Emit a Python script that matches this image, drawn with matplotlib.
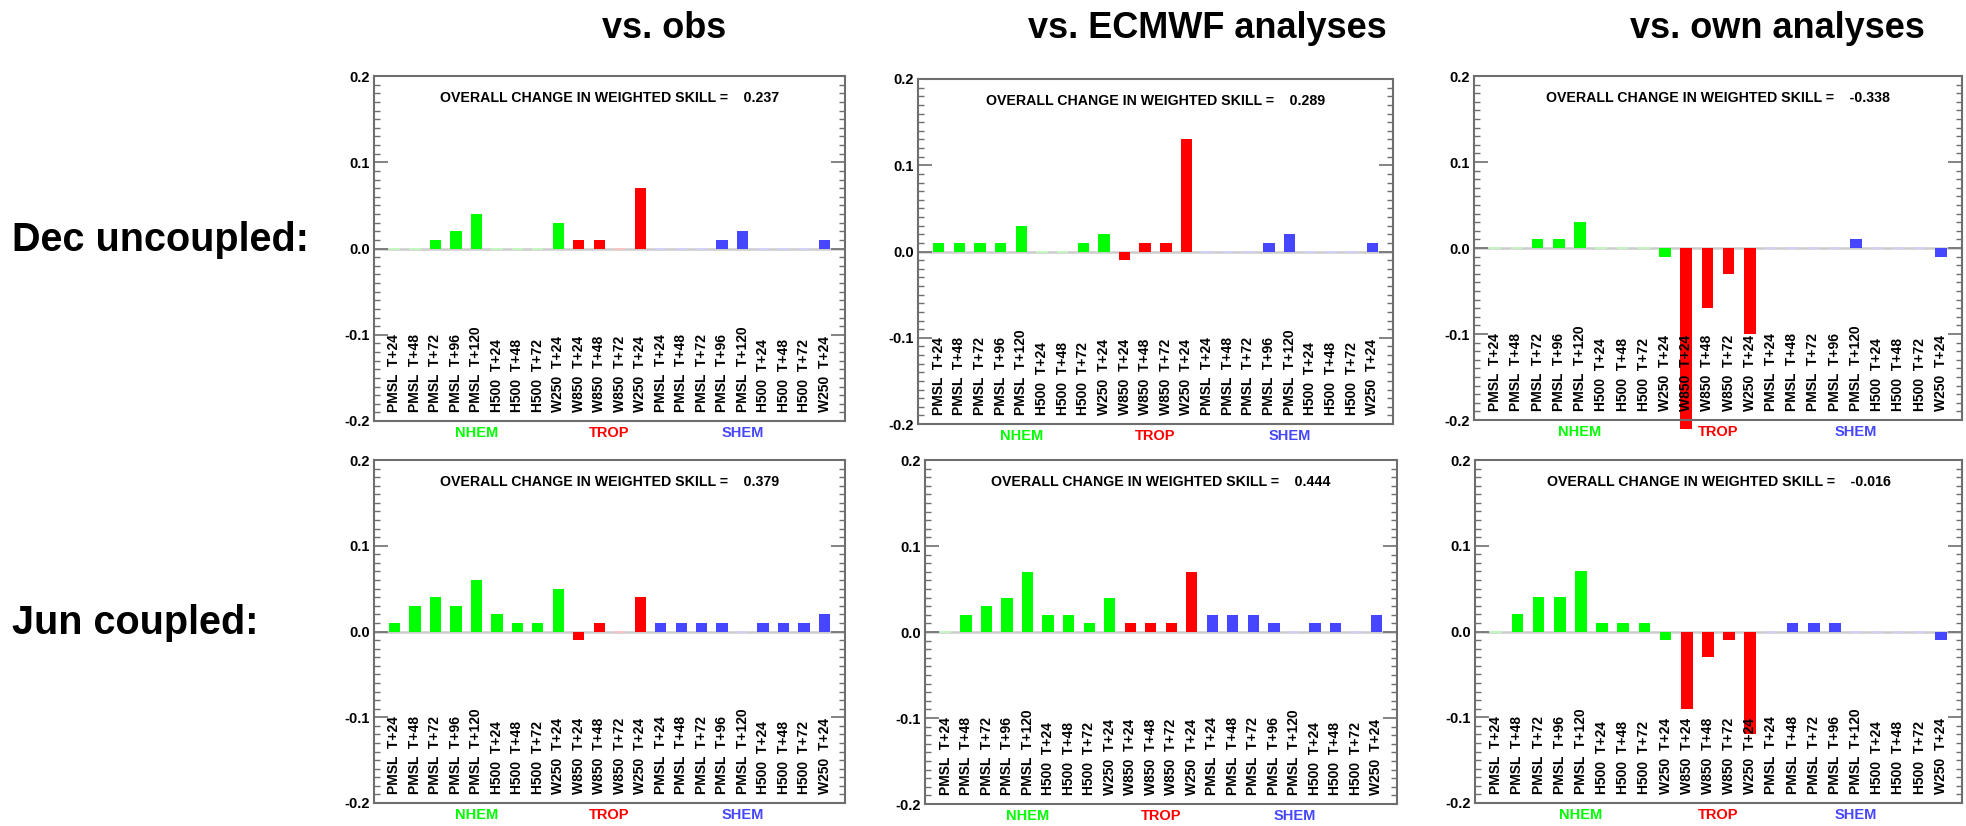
import matplotlib
matplotlib.use("Agg")
import matplotlib.pyplot as plt
from matplotlib.ticker import MultipleLocator
from matplotlib.colors import to_rgb

plt.rcParams['font.family'] = ['Liberation Sans', 'DejaVu Sans']

# ---- data ----
labels = ["PMSL  T+24", "PMSL  T+48", "PMSL  T+72", "PMSL  T+96", "PMSL  T+120",
          "H500  T+24", "H500  T+48", "H500  T+72", "W250  T+24",
          "W850  T+24", "W850  T+48", "W850  T+72", "W250  T+24",
          "PMSL  T+24", "PMSL  T+48", "PMSL  T+72", "PMSL  T+96", "PMSL  T+120",
          "H500  T+24", "H500  T+48", "H500  T+72", "W250  T+24"]
regions = ["NHEM"] * 9 + ["TROP"] * 4 + ["SHEM"] * 9
region_names = ["NHEM", "TROP", "SHEM"]
region_colors = {"NHEM": "#00ff00", "TROP": "#ff0000", "SHEM": "#4646ff"}

col_titles = ["vs. obs", "vs. ECMWF analyses", "vs. own analyses"]
row_titles = ["Dec uncoupled:", "Jun coupled:"]

dec_obs = [0, 0, 0.01, 0.02, 0.04, 0, 0, 0, 0.03,
           0.01, 0.01, 0, 0.07,
           0, 0, 0, 0.01, 0.02, 0, 0, 0, 0.01]
dec_ecmwf = [0.01, 0.01, 0.01, 0.01, 0.03, 0, 0, 0.01, 0.02,
             -0.01, 0.01, 0.01, 0.13,
             0, 0, 0, 0.01, 0.02, 0, 0, 0, 0.01]
dec_own = [0, 0, 0.01, 0.01, 0.03, 0, 0, 0, -0.01,
           -0.21, -0.07, -0.03, -0.10,
           0, 0, 0, 0, 0.01, 0, 0, 0, -0.01]
jun_obs = [0.01, 0.03, 0.04, 0.03, 0.06, 0.02, 0.01, 0.01, 0.05,
           -0.01, 0.01, 0, 0.04,
           0.01, 0.01, 0.01, 0.01, 0, 0.01, 0.01, 0.01, 0.02]
jun_ecmwf = [0, 0.02, 0.03, 0.04, 0.07, 0.02, 0.02, 0.01, 0.04,
             0.01, 0.01, 0.01, 0.07,
             0.02, 0.02, 0.02, 0.01, 0, 0.01, 0.01, 0, 0.02]
jun_own = [0, 0.02, 0.04, 0.04, 0.07, 0.01, 0.01, 0.01, -0.01,
           -0.09, -0.03, -0.01, -0.12,
           0, 0.01, 0.01, 0.01, 0, 0, 0, 0, -0.01]

overall = [["0.237", "0.289", "-0.338"], ["0.379", "0.444", "-0.016"]]
panels = [[dec_obs, dec_ecmwf, dec_own], [jun_obs, jun_ecmwf, jun_own]]

# ---- layout (pixel boxes: left, top, right, bottom) ----
W, H = 1966, 826
boxes = [[(374, 76, 845, 421), (918, 79, 1393, 424), (1474, 76, 1962, 420)],
         [(374, 460, 845, 803), (925, 460, 1397, 804), (1475, 460, 1962, 803)]]

fig = plt.figure(figsize=(W / 100, H / 100), dpi=100)
frame_col = "#6e6e6e"


def tint(c, f=0.75):
    r, g, b = to_rgb(c)
    return (r + (1 - r) * f, g + (1 - g) * f, b + (1 - b) * f)


for r in range(2):
    for c in range(3):
        l, t, rr, b = boxes[r][c]
        ax = fig.add_axes([l / W, 1 - b / H, (rr - l) / W, (b - t) / H])
        vals = panels[r][c]
        n = len(vals)
        xs = list(range(1, n + 1))
        cols = [region_colors[g] for g in regions]
        ax.axhline(0, color="#cccccc", lw=1.8, zorder=1)
        edges = [tint(col) if v == 0 else "none" for v, col in zip(vals, cols)]
        ax.bar(xs, vals, width=0.55, color=cols, edgecolor=edges, linewidth=1.2,
               zorder=2, clip_on=False)
        ax.set_xlim(0, n + 1)
        ax.set_ylim(-0.2, 0.2)
        ax.set_xticks([])
        ax.yaxis.set_minor_locator(MultipleLocator(0.01))
        ax.set_yticks([-0.2, -0.1, 0.0, 0.1, 0.2])
        ax.set_yticklabels(["-0.2", "-0.1", "0.0", "0.1", "0.2"], fontweight="bold", fontsize=10.5)
        ax.tick_params(axis="y", which="major", direction="in", length=10, width=1.2,
                       left=True, right=True, color=frame_col, pad=3)
        ax.tick_params(axis="y", which="minor", direction="in", length=4, width=1.0,
                       left=True, right=True, color=frame_col)
        for sp in ax.spines.values():
            sp.set_color(frame_col)
            sp.set_linewidth(1.5)
        for x, lab in zip(xs, labels):
            ax.text(x, -0.2 + 0.011, lab, rotation=90, ha="center", va="bottom",
                    fontsize=10, fontweight="bold", zorder=3)
        for name in region_names:
            idx = [x for x, g in zip(xs, regions) if g == name]
            gx = (idx[0] + idx[-1]) / 2
            ax.text(gx, -0.035, name, transform=ax.get_xaxis_transform(), ha="center",
                    va="center", fontsize=10.5, fontweight="bold", color=region_colors[name])
        ax.text(0.5, 0.935, "OVERALL CHANGE IN WEIGHTED SKILL =    " + overall[r][c],
                transform=ax.transAxes, ha="center", va="center", fontsize=10.2, fontweight="bold")

col_centers = [664, 1207, 1777]
for t, cx in zip(col_titles, col_centers):
    fig.text(cx / W, 1 - 28 / H, t, ha="center", va="center", fontsize=26, fontweight="bold")

row_y = [240, 623]
for t, ry in zip(row_titles, row_y):
    fig.text(12 / W, 1 - ry / H, t, ha="left", va="center", fontsize=28.5, fontweight="bold")

fig.savefig("out.png", dpi=100)
